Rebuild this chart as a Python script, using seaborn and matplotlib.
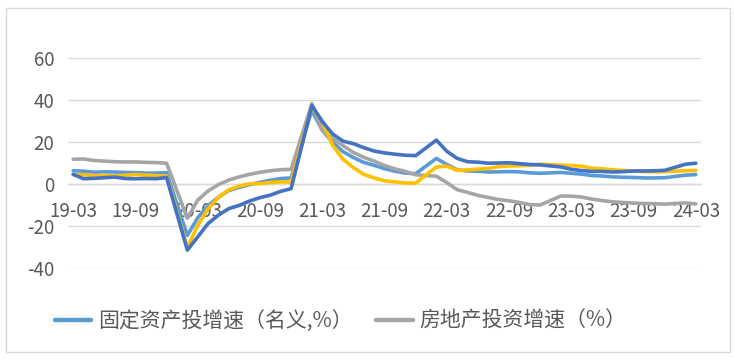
import matplotlib
matplotlib.use("Agg")
import matplotlib.pyplot as plt
import seaborn as sns
import pandas as pd
from matplotlib.lines import Line2D
from matplotlib.patches import Rectangle

# ---------------- data ----------------
months = ["2019-03", "2019-04", "2019-05", "2019-06", "2019-07", "2019-08", "2019-09", "2019-10", "2019-11", "2019-12",
          "2020-02", "2020-03", "2020-04", "2020-05", "2020-06", "2020-07", "2020-08", "2020-09", "2020-10", "2020-11", "2020-12",
          "2021-02", "2021-03", "2021-04", "2021-05", "2021-06", "2021-07", "2021-08", "2021-09", "2021-10", "2021-11", "2021-12",
          "2022-02", "2022-03", "2022-04", "2022-05", "2022-06", "2022-07", "2022-08", "2022-09", "2022-10", "2022-11", "2022-12",
          "2023-02", "2023-03", "2023-04", "2023-05", "2023-06", "2023-07", "2023-08", "2023-09", "2023-10", "2023-11", "2023-12",
          "2024-02", "2024-03"]

fai = [6.3, 6.1, 5.6, 5.8, 5.7, 5.5, 5.4, 5.2, 5.2, 5.4,
       -24.5, -16.1, -10.3, -6.3, -3.1, -1.6, -0.3, 0.8, 1.8, 2.6, 2.9,
       35.0, 25.6, 19.9, 15.4, 12.6, 10.3, 8.9, 7.3, 6.1, 5.2, 4.9,
       12.2, 9.3, 6.8, 6.2, 6.1, 5.7, 5.8, 5.9, 5.8, 5.3, 5.1,
       5.5, 5.1, 4.7, 4.0, 3.8, 3.4, 3.2, 3.1, 2.9, 2.9, 3.0,
       4.2, 4.5]

real_estate = [11.8, 11.9, 11.2, 10.9, 10.6, 10.5, 10.5, 10.3, 10.2, 9.9,
               -16.3, -7.7, -3.3, -0.3, 1.9, 3.4, 4.6, 5.6, 6.3, 6.8, 7.0,
               38.3, 25.6, 21.6, 18.3, 15.0, 12.7, 10.9, 8.8, 7.2, 6.0, 4.4,
               3.7, 0.7, -2.7, -4.0, -5.4, -6.4, -7.4, -8.0, -8.8, -9.8, -10.0,
               -5.7, -5.8, -6.2, -7.2, -7.9, -8.5, -8.8, -9.1, -9.3, -9.4, -9.6,
               -9.0, -9.5]

infrastructure = [4.4, 4.4, 4.0, 4.1, 3.8, 4.2, 4.5, 4.2, 4.0, 3.8,
                  -30.3, -19.7, -11.8, -6.3, -2.7, -1.0, 0.1, 0.2, 0.7, 1.0, 0.9,
                  36.6, 29.7, 18.4, 11.8, 7.8, 4.6, 2.9, 1.5, 1.0, 0.5, 0.4,
                  8.1, 8.5, 6.5, 6.7, 7.1, 7.4, 8.3, 8.6, 8.7, 8.9, 9.4,
                  9.0, 8.8, 8.5, 7.5, 7.2, 6.8, 6.4, 6.2, 5.9, 5.8, 5.9,
                  6.3, 6.5]

manufacturing = [4.6, 2.5, 2.7, 3.0, 3.3, 2.6, 2.5, 2.6, 2.5, 3.1,
                 -31.5, -25.2, -18.8, -14.8, -11.7, -10.2, -8.1, -6.5, -5.3, -3.5, -2.2,
                 37.3, 29.8, 23.8, 20.4, 19.2, 17.3, 15.7, 14.8, 14.2, 13.7, 13.5,
                 20.9, 15.6, 12.2, 10.6, 10.4, 9.9, 10.0, 10.1, 9.7, 9.3, 9.1,
                 8.1, 7.0, 6.4, 6.0, 6.0, 5.7, 5.9, 6.2, 6.2, 6.3, 6.5,
                 9.4, 9.9]

tick_labels = ["19-03", "19-09", "20-03", "20-09", "21-03", "21-09",
               "22-03", "22-09", "23-03", "23-09", "24-03"]

legend_labels = ["固定资产投增速（名义,%）", "房地产投资增速（%）"]

# ---------------- prep ----------------
def month_index(s):
    y, m = s.split("-")
    return (int(y) - 2019) * 12 + int(m) - 3

df = pd.DataFrame({
    "idx": [month_index(m) for m in months],
    "fai": fai,
    "re": real_estate,
    "infra": infrastructure,
    "mfg": manufacturing,
})

sns.set_theme(style="white")
plt.rcParams["font.family"] = ["Noto Sans CJK SC", "DejaVu Sans"]
plt.rcParams["axes.unicode_minus"] = False

W, H = 734, 359
fig = plt.figure(figsize=(W / 100, H / 100), dpi=100)
ax = fig.add_axes([68 / W, 1 - 268 / H, (701 - 68) / W, (268 - 58) / H])

colors = {"fai": "#5B9BD5", "re": "#A5A5A5", "infra": "#FFC000", "mfg": "#4472C4"}
lw = 2.6
for i, key in enumerate(["fai", "re", "infra", "mfg"]):
    sns.lineplot(data=df, x="idx", y=key, ax=ax, color=colors[key], linewidth=lw,
                 zorder=3 + i, legend=False, solid_joinstyle="round")

ax.set_xlim(-0.5, 60.5)
ax.set_ylim(-40, 60)
ax.set_yticks([-40, -20, 0, 20, 40, 60])
ax.yaxis.grid(True, color="#D9D9D9", linewidth=1.0)
ax.xaxis.grid(False)
for s in ["top", "right", "left"]:
    ax.spines[s].set_visible(False)
ax.spines["bottom"].set_position(("data", 0))
ax.spines["bottom"].set_color("#D9D9D9")
ax.spines["bottom"].set_linewidth(1.0)
ax.spines["bottom"].set_zorder(2)

ax.set_xticks(list(range(0, 61, 6)))
ax.set_xticklabels(tick_labels)
ax.set_xticks([x - 0.5 for x in range(0, 61, 6)], minor=True)
ax.tick_params(axis="x", which="major", length=0, pad=12, labelsize=13.5, labelcolor="#595959")
ax.tick_params(axis="x", which="minor", length=5, width=1.0, color="#D9D9D9", direction="out")
ax.tick_params(axis="y", length=0, pad=10, labelsize=13.5, labelcolor="#595959")
ax.set_xlabel("")
ax.set_ylabel("")

handles = [Line2D([0], [0], color=colors["fai"], linewidth=3.2),
           Line2D([0], [0], color=colors["re"], linewidth=3.2)]
fig.legend(handles, legend_labels, loc="center left", bbox_to_anchor=(36 / W, 1 - 321 / H),
           ncol=2, frameon=False, fontsize=15, labelcolor="#595959",
           handlelength=1.75, handletextpad=0.35, columnspacing=1.1)

fig.patches.append(Rectangle((6 / W, 1 - 352 / H), (730 - 6) / W, (352 - 8) / H,
                             transform=fig.transFigure, fill=False, edgecolor="#D9D9D9",
                             linewidth=1.0))

fig.savefig("out.png", dpi=100)
